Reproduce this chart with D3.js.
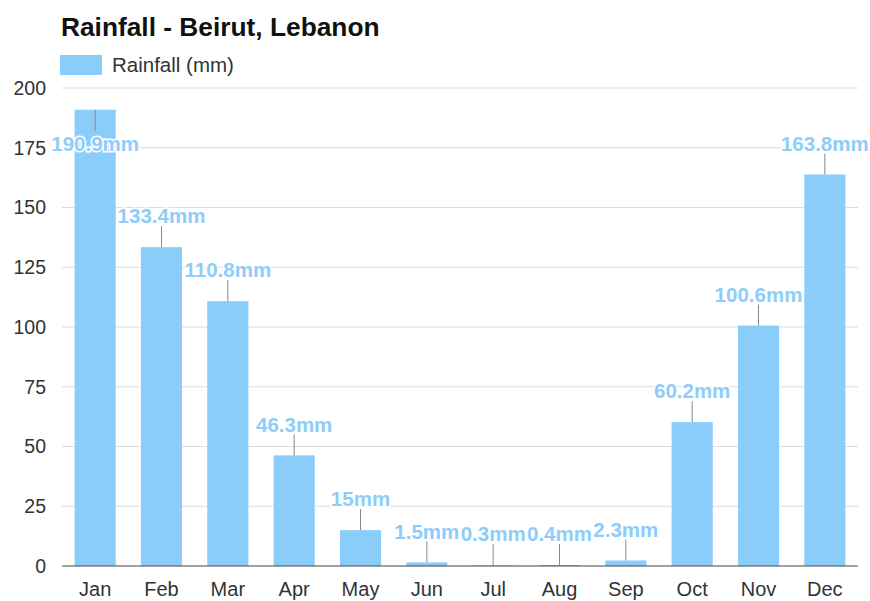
<!DOCTYPE html>
<html>
<head>
<meta charset="utf-8">
<script src="https://cdn.jsdelivr.net/npm/d3@7"></script>
<style>
  body { margin: 0; background: #fff; font-family: 'Liberation Sans', Arial, sans-serif; }
</style>
</head>
<body>
<div id="chart"></div>
<script>
const months = ['Jan','Feb','Mar','Apr','May','Jun','Jul','Aug','Sep','Oct','Nov','Dec']
const rainfall = [190.9, 133.4, 110.8, 46.3, 15, 1.5, 0.3, 0.4, 2.3, 60.2, 100.6, 163.8]
const yTicks = [0, 25, 50, 75, 100, 125, 150, 175, 200]

function draw() {
  const width = 870
  const height = 601
  const margin = { top: 88, right: 12, bottom: 35, left: 62 }
  const barColour = '#8accfa'
  const font = "'Liberation Sans', Arial, sans-serif"

  const svg = d3.select('#chart')
    .append('svg')
    .attr('width', width)
    .attr('height', height)
    .style('font-family', font)

  const x = d3.scaleBand()
    .domain(months)
    .range([margin.left, width - margin.right])
    .paddingInner(0.38)
    .paddingOuter(0.19)

  const y = d3.scaleLinear()
    .domain([0, 200])
    .range([height - margin.bottom, margin.top])

  // title + legend
  svg.append('text')
    .attr('x', 61)
    .attr('y', 36)
    .attr('font-size', 26.3)
    .attr('font-weight', 'bold')
    .attr('fill', '#111')
    .text('Rainfall - Beirut, Lebanon')

  svg.append('rect')
    .attr('x', 60).attr('y', 55)
    .attr('width', 42).attr('height', 20)
    .attr('fill', barColour)

  svg.append('text')
    .attr('x', 112).attr('y', 72)
    .attr('font-size', 20.5)
    .attr('fill', '#333')
    .text('Rainfall (mm)')

  // grid
  svg.append('g')
    .selectAll('line')
    .data(yTicks.filter(d => d > 0))
    .join('line')
    .attr('x1', margin.left)
    .attr('x2', width - margin.right)
    .attr('y1', d => y(d))
    .attr('y2', d => y(d))
    .attr('stroke', '#dcdcdc')
    .attr('stroke-width', 1)

  // y axis labels
  const yAxis = svg.append('g')
    .attr('transform', `translate(${margin.left - 16},0)`)
    .call(d3.axisLeft(y).tickValues(yTicks).tickSize(0).tickPadding(0))
  yAxis.select('.domain').remove()
  yAxis.selectAll('text')
    .attr('font-size', 19.5)
    .attr('fill', '#333')
    .style('font-family', font)

  // bars
  svg.append('g')
    .selectAll('rect')
    .data(rainfall)
    .join('rect')
    .attr('x', (d, i) => x(months[i]))
    .attr('y', d => y(d))
    .attr('width', x.bandwidth())
    .attr('height', d => y(0) - y(d))
    .attr('fill', barColour)

  // x axis
  const xAxis = svg.append('g')
    .attr('transform', `translate(0,${y(0)})`)
    .call(d3.axisBottom(x).tickSize(0).tickPadding(16))
  xAxis.select('.domain')
    .attr('stroke', '#444')
    .attr('d', `M${margin.left},0H${width - margin.right}`)
  xAxis.selectAll('text')
    .attr('font-size', 20)
    .attr('fill', '#333')
    .style('font-family', font)

  // value labels with leader lines
  const flip = d => y(d) - 45 < margin.top
  const labels = svg.append('g')
  rainfall.forEach((d, i) => {
    const cx = x(months[i]) + x.bandwidth() / 2
    const top = y(d)
    const dir = flip(d) ? 1 : -1
    labels.append('line')
      .attr('x1', cx).attr('x2', cx)
      .attr('y1', top).attr('y2', top + dir * 21)
      .attr('stroke', '#888')
      .attr('stroke-width', 1)
    labels.append('text')
      .attr('x', cx)
      .attr('y', top + dir * (flip(d) ? 34 : 31))
      .attr('dy', '0.35em')
      .attr('text-anchor', 'middle')
      .attr('font-size', 20.5)
      .attr('font-weight', 'bold')
      .attr('fill', '#8ecdf9')
      .attr('stroke', '#fff')
      .attr('stroke-width', 3)
      .attr('paint-order', 'stroke')
      .text(d + 'mm')
  })
}

draw()
</script>
</body>
</html>
